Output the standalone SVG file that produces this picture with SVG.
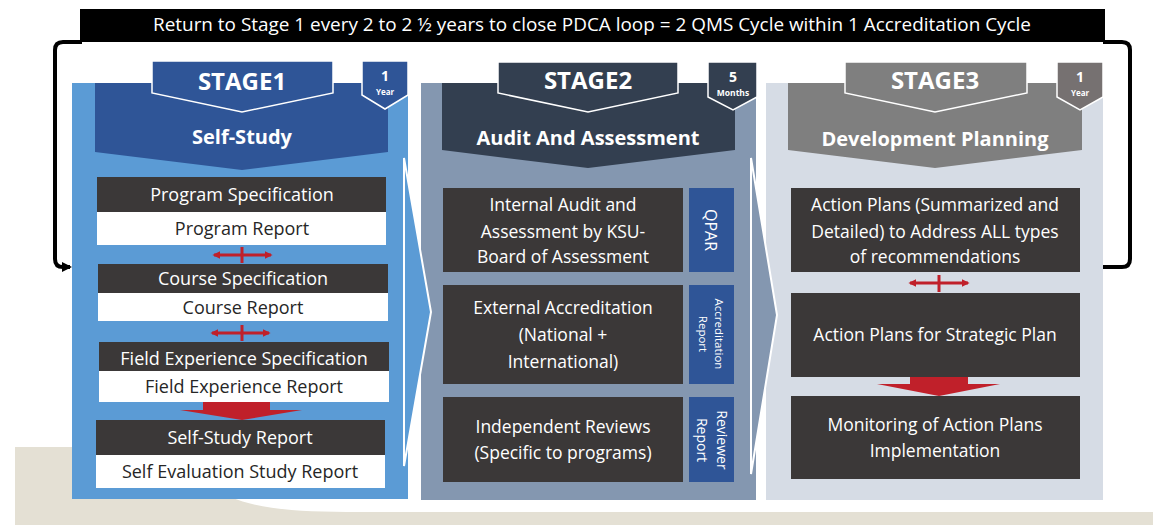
<svg xmlns="http://www.w3.org/2000/svg" width="1153" height="525" viewBox="0 0 1153 525">
<defs>
<style>
text{font-family:"Open Sans","Liberation Sans",sans-serif;}
.hb{font-weight:bold;fill:#fff;text-anchor:middle}
.dk{fill:#3b3838}
.wt{fill:#fff}
.t1{font-size:18px;text-anchor:middle}
.t2{font-size:17.5px;text-anchor:middle;fill:#fff}
.side{fill:#2f5597}
.red{stroke:#c0202a;stroke-width:3;fill:none}
.loop{stroke:#000;stroke-width:4;fill:none}
.tab{stroke:#fff;stroke-width:1.5}
.chev{stroke:#fff;stroke-width:2}
</style>
<marker id="rh" viewBox="0 0 10 10" refX="8" refY="5" markerWidth="8" markerHeight="8" markerUnits="userSpaceOnUse" orient="auto-start-reverse">
<path d="M0,0 L10,5 L0,10 z" fill="#c0202a"/>
</marker>
<marker id="kh" viewBox="0 0 10 10" refX="8" refY="5" markerWidth="10" markerHeight="10" markerUnits="userSpaceOnUse" orient="auto">
<path d="M0,0 L10,5 L0,10 z" fill="#000"/>
</marker>
</defs>

<g id="background">
<rect x="0" y="0" width="1153" height="525" fill="#fff"/>
<rect x="15" y="447" width="1138" height="78" fill="#e4e0d4"/>
<path d="M230,447 L230,497 C262,510 300,512 360,512 L1153,512 L1153,447 Z" fill="#fff"/>
</g>

<g id="banner">
<rect x="80" y="9" width="1025" height="33" fill="#000"/>
<text x="592" y="31" fill="#fff" font-size="18" text-anchor="middle" textLength="878" lengthAdjust="spacingAndGlyphs">Return to Stage 1 every 2 to 2 ½ years to close PDCA loop = 2 QMS Cycle within 1 Accreditation Cycle</text>
</g>

<g id="stage1">
<rect x="72" y="83" width="336" height="416" fill="#5b9bd5"/>
<polygon points="95,83 388,83 388,152 242,170 95,152" fill="#2f5597"/>
<polygon class="tab" points="152,61 333,61 333,93 242,112 152,93" fill="#2f5597"/>
<polygon class="tab" points="362,61 408,61 408,95 385,109 362,95" fill="#2f5597"/>
<text class="hb" x="242" y="90" font-size="24">STAGE1</text>
<text class="hb" x="385" y="81" font-size="14">1</text>
<text class="hb" x="385" y="95" font-size="8">Year</text>
<text class="hb" x="242" y="144" font-size="20">Self-Study</text>
</g>

<g id="stage2">
<rect x="421" y="83" width="335" height="417" fill="#8497b0"/>
<polygon points="442,83 735,83 735,150 588,168 442,150" fill="#333f50"/>
<polygon class="tab" points="498,62 678,62 678,93 588,112 498,93" fill="#333f50"/>
<polygon class="tab" points="708,62 757,62 757,97 733,110 708,97" fill="#333f50"/>
<text class="hb" x="588" y="89" font-size="24">STAGE2</text>
<text class="hb" x="733" y="82" font-size="14">5</text>
<text class="hb" x="733" y="96" font-size="8.5">Months</text>
<text class="hb" x="588" y="145" font-size="20">Audit And Assessment</text>
</g>

<g id="stage3">
<rect x="766" y="83" width="337" height="417" fill="#d6dce5"/>
<polygon points="788,83 1082,83 1082,150 935,168 788,150" fill="#7f7f7f"/>
<polygon class="tab" points="845,62 1027,62 1027,93 935,112 845,93" fill="#7f7f7f"/>
<polygon class="tab" points="1057,62 1103,62 1103,97 1080,110 1057,97" fill="#767171"/>
<text class="hb" x="935" y="89" font-size="24">STAGE3</text>
<text class="hb" x="1080" y="82" font-size="14">1</text>
<text class="hb" x="1080" y="96" font-size="8">Year</text>
<text class="hb" x="935" y="146" font-size="20">Development Planning</text>
</g>

<g id="connectors">
<path class="loop" d="M82,42 H63 Q55,42 55,50 V259 Q55,267 63,267 H70" marker-end="url(#kh)"/>
<path class="loop" d="M1103,42 H1122 Q1130,42 1130,50 V259 Q1130,267 1122,267 H1103"/>
<polygon class="chev" points="404,158 431,312 404,466" fill="#5b9bd5"/>
<polygon class="chev" points="751,158 777,315 751,474" fill="#8497b0"/>
<line class="red" x1="214" y1="255" x2="271" y2="255" marker-start="url(#rh)" marker-end="url(#rh)"/>
<line class="red" x1="242" y1="247" x2="242" y2="263"/>
<line class="red" x1="212" y1="333" x2="269" y2="333" marker-start="url(#rh)" marker-end="url(#rh)"/>
<line class="red" x1="242" y1="325" x2="242" y2="341"/>
<line class="red" x1="910" y1="283" x2="968" y2="283" marker-start="url(#rh)" marker-end="url(#rh)"/>
<line class="red" x1="939" y1="275" x2="939" y2="292"/>
<polygon points="203,402 270,402 270,410 302,410 242,420 180,410 203,410" fill="#c0202a"/>
<polygon points="910,377 968,377 968,384 1000,384 939,396 877,384 910,384" fill="#c0202a"/>
</g>

<g id="program-spec"><rect class="dk" x="97" y="177" width="289" height="35"/><text class="t1" x="242" y="201" fill="#fff">Program Specification</text></g>
<g id="program-report"><rect class="wt" x="97" y="212" width="289" height="33"/><text class="t1" x="242" y="235" fill="#262626">Program Report</text></g>
<g id="course-spec"><rect class="dk" x="98" y="264" width="290" height="29"/><text class="t1" x="243" y="285" fill="#fff">Course Specification</text></g>
<g id="course-report"><rect class="wt" x="98" y="293" width="290" height="28"/><text class="t1" x="243" y="314" fill="#262626">Course Report</text></g>
<g id="field-spec"><rect class="dk" x="99" y="342" width="290" height="29"/><text class="t1" x="244" y="365" fill="#fff">Field Experience Specification</text></g>
<g id="field-report"><rect class="wt" x="99" y="371" width="290" height="31"/><text class="t1" x="244" y="393" fill="#262626">Field Experience Report</text></g>
<g id="ssr"><rect class="dk" x="96" y="420" width="289" height="35"/><text class="t1" x="240" y="444" fill="#fff">Self-Study Report</text></g>
<g id="ser"><rect class="wt" x="96" y="455" width="289" height="33"/><text class="t1" x="240" y="478" fill="#262626">Self Evaluation Study Report</text></g>

<g id="internal-audit"><rect class="dk" x="443" y="188" width="240" height="84"/>
<text class="t2" x="563" y="211">Internal Audit and</text><text class="t2" x="563" y="238">Assessment by KSU-</text><text class="t2" x="563" y="263">Board of Assessment</text></g>
<g id="qpar"><rect class="side" x="689" y="188" width="45" height="84"/>
<text transform="translate(711,230) rotate(90)" x="0" y="6" fill="#fff" font-size="16" text-anchor="middle">QPAR</text></g>
<g id="external-accreditation"><rect class="dk" x="443" y="285" width="240" height="99"/>
<text class="t2" x="563" y="314">External Accreditation</text><text class="t2" x="563" y="341">(National +</text><text class="t2" x="563" y="368">International)</text></g>
<g id="accreditation-report"><rect class="side" x="689" y="285" width="45" height="99"/>
<text transform="translate(711,334) rotate(90)" fill="#fff" font-size="11.5" text-anchor="middle"><tspan x="0" y="-4">Accreditation</tspan><tspan x="0" y="12">Report</tspan></text></g>
<g id="independent-reviews"><rect class="dk" x="443" y="397" width="240" height="85"/>
<text class="t2" x="563" y="433">Independent Reviews</text><text class="t2" x="563" y="459">(Specific to programs)</text></g>
<g id="reviewer-report"><rect class="side" x="689" y="397" width="45" height="85"/>
<text transform="translate(711,440) rotate(90)" fill="#fff" font-size="14" text-anchor="middle"><tspan x="0" y="-6">Reviewer</tspan><tspan x="0" y="14">Report</tspan></text></g>

<g id="action-plans"><rect class="dk" x="791" y="188" width="289" height="84"/>
<text class="t2" x="935" y="211">Action Plans (Summarized and</text><text class="t2" x="935" y="238">Detailed) to Address ALL types</text><text class="t2" x="935" y="263">of recommendations</text></g>
<g id="strategic"><rect class="dk" x="791" y="293" width="289" height="84"/>
<text class="t2" x="935" y="341">Action Plans for Strategic Plan</text></g>
<g id="monitoring"><rect class="dk" x="791" y="396" width="289" height="83"/>
<text class="t2" x="935" y="431">Monitoring of Action Plans</text><text class="t2" x="935" y="457">Implementation</text></g>
</svg>
